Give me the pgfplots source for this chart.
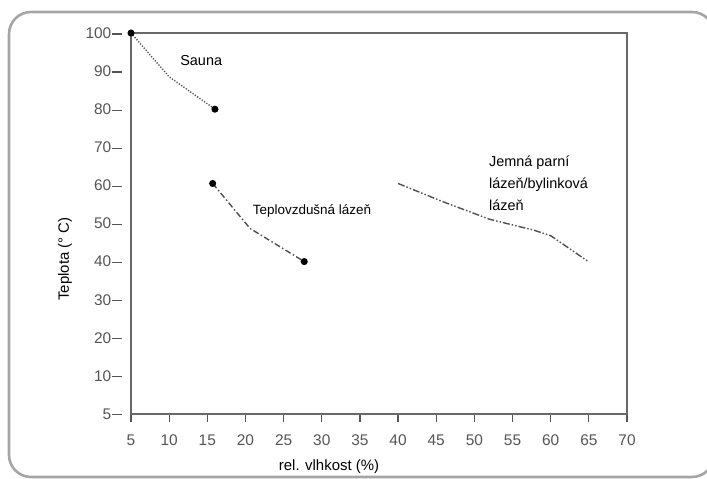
\documentclass[border=0pt]{standalone}
\usepackage{pgfplots}
\pgfplotsset{compat=1.18}
\usepackage{fontspec}
\setmainfont{Liberation Sans}
\definecolor{frame}{RGB}{165,165,165}
\definecolor{axisgray}{RGB}{105,105,105}
\definecolor{tickgray}{RGB}{85,85,85}
\definecolor{linegray}{RGB}{80,80,80}
\begin{document}
\begin{tikzpicture}[x=1bp,y=1bp]
\useasboundingbox (0,0) rectangle (707,479);
\begin{scope}
\clip (0,0) rectangle (707,479);
\draw[frame, line width=2.6bp, rounded corners=22bp] (9,2) rectangle (714,467);
\end{scope}
% y tick labels (with their dashes) from a second axis without lines
\begin{axis}[
  at={(131bp,65bp)}, anchor=south west,
  scale only axis, width=496bp, height=381bp,
  xmin=5, xmax=70, ymin=0, ymax=100,
  axis line style={draw=none},
  major tick length=0pt,
  xtick=\empty,
  ytick={0,10,...,100},
  yticklabels={5,10,20,30,40,50,60,70,80,90,100},
  yticklabel={\pgfmathparse{\tick==0 ? 5 : int(\tick)}\pgfmathresult\hspace{0.5bp}\rule[3.8bp]{10bp}{1.2bp}},
  yticklabel style={font=\fontsize{15.5}{17}\selectfont, text=tickgray, inner sep=0pt, anchor=east, xshift=-9bp},
]
\end{axis}
\begin{axis}[
  at={(131bp,65bp)}, anchor=south west,
  scale only axis, width=496bp, height=381bp,
  xmin=5, xmax=70, ymin=0, ymax=100,
  axis line style={axisgray, line width=1.4bp},
  tick align=outside,
  major tick length=8bp,
  xtick pos=left,
  ytick=\empty,
  xtick={5,10,...,70},
  xticklabels={5,10,15,20,25,30,35,40,45,50,55,60,65,70},
  tick style={tickgray, line width=1.2bp},
  xticklabel style={font=\fontsize{15.5}{17}\selectfont, text=tickgray, inner sep=0pt, anchor=north, yshift=-13bp},
  clip=false,
]
\addplot[linegray, line width=1.4bp, dash pattern=on 1.2bp off 1.6bp, mark=*, mark size=2.8bp, mark options={solid, fill=black, draw=black}, mark indices={1,3}]
  coordinates {(5,100) (10,88.5) (16,80)};
\addplot[linegray, line width=1.4bp, dash pattern=on 6bp off 2.5bp on 1.5bp off 2.5bp, mark=*, mark size=2.8bp, mark options={solid, fill=black, draw=black}, mark indices={1,3}]
  coordinates {(15.7,60.5) (20.6,48.7) (27.7,40)};
\addplot[linegray, line width=1.4bp, dash pattern=on 7bp off 2bp on 1.5bp off 2bp on 1.5bp off 2bp]
  coordinates {(40,60.5) (45.9,55.7) (52,51.1) (57.7,48.3) (60,46.8) (65,39.9)};
\node[font=\fontsize{14.5}{17}\selectfont] at (axis cs:14.2,92.8) {Sauna};
\node[font=\fontsize{13.5}{16}\selectfont, anchor=west, inner sep=0pt] at (axis cs:20.95,53.2) {Teplovzdušná lázeň};
\node[font=\fontsize{14.5}{22}\selectfont, anchor=west, align=left, inner sep=0pt] at (axis cs:51.9,60.6) {Jemná parní\\lázeň/bylinková\\lázeň};
\end{axis}
\node[rotate=90, font=\fontsize{15}{17}\selectfont] at (65,220) {Teplota (° C)};
\node[font=\fontsize{15}{17}\selectfont] at (329,12) {rel. vlhkost (\%)};
\end{tikzpicture}
\end{document}
